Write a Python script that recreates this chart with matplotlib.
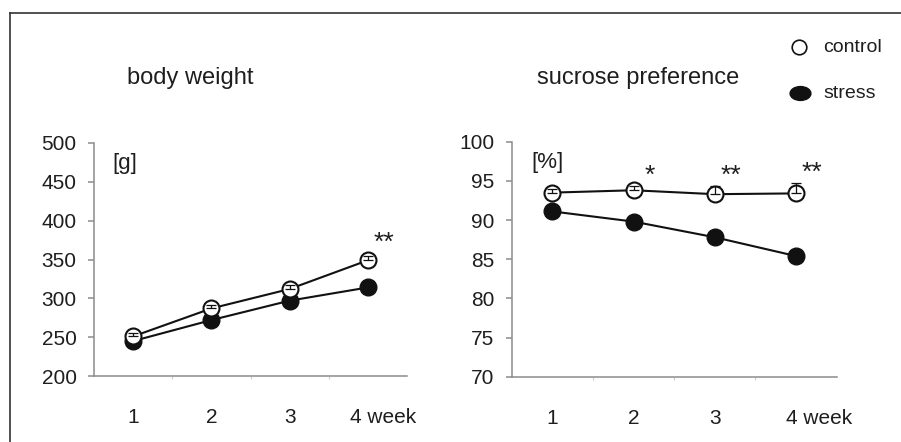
import matplotlib
matplotlib.use("Agg")
import matplotlib.pyplot as plt
import numpy as np
from matplotlib.lines import Line2D
from matplotlib.path import Path
from matplotlib.transforms import Affine2D, ScaledTranslation

plt.rcParams['font.family'] = ['Liberation Sans', 'DejaVu Sans']

# --- data ---
weeks = ["1", "2", "3", "4 week"]

bw_control = [251, 287, 312, 349]
bw_stress = [245, 272, 297, 314]
bw_control_err = [4, 5, 5, 5]
bw_stars = ["", "", "", "**"]

sp_control = [93.5, 93.8, 93.3, 93.4]
sp_stress = [91.1, 89.8, 87.8, 85.4]
sp_control_err = [0.5, 0.6, 1.1, 1.3]
sp_stars = ["", "*", "**", "**"]

TEXT = '#1e1e1e'
SPINE = '#8c8c8c'
LINE = '#111111'

fig = plt.figure(figsize=(9.01, 4.42), dpi=100)
fig.patch.set_facecolor('white')

# frame lines (left + top) of the original figure panel
fig.add_artist(Line2D([10/901, 10/901], [0, 1 - 13/442], transform=fig.transFigure,
                      color='#333333', lw=1.2))
fig.add_artist(Line2D([10/901, 1], [1 - 13/442, 1 - 13/442], transform=fig.transFigure,
                      color='#333333', lw=1.2))


def panel(rect, control, stress, err, stars, ylim, ystep, unit, title, star_off, last_off):
    ax = fig.add_axes(rect)
    x = np.arange(len(weeks)) + 0.5
    ax.plot(x, stress, color=LINE, lw=1.5, marker='o', ms=12,
            mfc=LINE, mec=LINE, zorder=3)
    ax.plot(x, control, color=LINE, lw=1.5, marker='o', ms=11.5,
            mfc='white', mec=LINE, mew=1.5, zorder=4)
    ax.errorbar(x, control, yerr=[np.zeros(len(err)), err], fmt='none',
                ecolor=LINE, elinewidth=0.9, capsize=3.5, capthick=0.9, zorder=5)
    for xi, yi, e, s in zip(x, control, err, stars):
        if s:
            ax.text(xi + 0.2, yi + e + star_off, s, ha='center', va='center',
                    fontsize=19, color=TEXT)

    ax.set_xlim(0, len(weeks))
    ax.set_ylim(*ylim)
    ax.set_yticks(np.arange(ylim[0], ylim[1] + ystep / 2, ystep))
    ax.set_xticks(x)
    ax.set_xticklabels(weeks)
    ax.set_xticks([1, 2, 3], minor=True)
    for sp in ['top', 'right']:
        ax.spines[sp].set_visible(False)
    for sp in ['left', 'bottom']:
        ax.spines[sp].set_color(SPINE)
        ax.spines[sp].set_linewidth(1.1)
    ax.tick_params(axis='y', direction='out', length=4.5, width=1.1, color=SPINE,
                   labelsize=15, labelcolor=TEXT, pad=8)
    ax.tick_params(axis='x', which='major', length=0, labelsize=15,
                   labelcolor=TEXT, pad=23)
    ax.tick_params(axis='x', which='minor', direction='out', length=2,
                   width=0.8, color='#cccccc')
    lab = ax.get_xticklabels()[-1]
    lab.set_transform(lab.get_transform() + ScaledTranslation(last_off / 100, 0, fig.dpi_scale_trans))
    ax.text(0.06, 0.91, unit, transform=ax.transAxes, fontsize=16,
            color=TEXT, ha='left', va='center')
    fig.text(title[1], 1 - 84/442, title[0], fontsize=17, color=TEXT,
             ha='left', va='baseline')
    return ax


panel([94/901, 1 - 376/442, 313/901, 233/442], bw_control, bw_stress, bw_control_err,
      bw_stars, (200, 500), 50, "[g]", ("body weight", 127/901), 18, 15)
panel([511.7/901, 1 - 376.7/442, 325/901, 235/442], sp_control, sp_stress, sp_control_err,
      sp_stars, (70, 100), 5, "[%]", ("sucrose preference", 537/901), 1.3, 23)

# legend
ellipse = Path.unit_circle().transformed(Affine2D().scale(1.5, 1.0))
fig.add_artist(Line2D([799/901], [1 - 47/442], transform=fig.transFigure, ls='none',
                      marker='o', ms=10.5, mfc='white', mec=LINE, mew=1.2))
fig.add_artist(Line2D([800/901], [1 - 93/442], transform=fig.transFigure, ls='none',
                      marker=ellipse, ms=15, mfc=LINE, mec=LINE))
fig.text(823/901, 1 - 47/442, "control", fontsize=14, color=TEXT, ha='left', va='center')
fig.text(823/901, 1 - 93/442, "stress", fontsize=14, color=TEXT, ha='left', va='center')

fig.savefig("out.png", dpi=100)
